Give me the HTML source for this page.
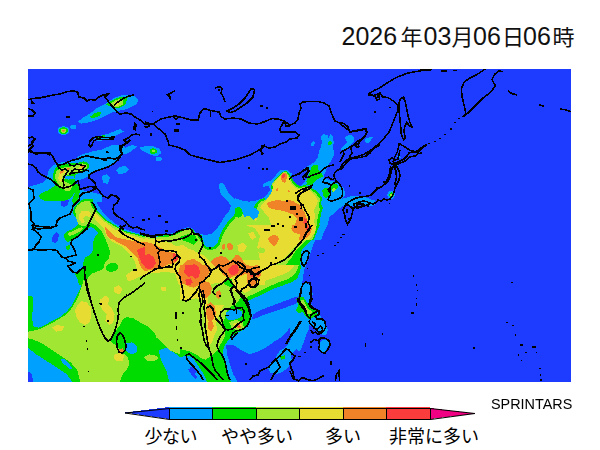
<!DOCTYPE html>
<html><head><meta charset="utf-8"><title>SPRINTARS</title>
<style>
html,body{margin:0;padding:0;background:#fff;}
body{width:600px;height:450px;overflow:hidden;position:relative;font-family:"Liberation Sans",sans-serif;}
svg{position:absolute;left:0;top:0;}
#lab{position:absolute;left:491px;top:395.6px;font-size:14.4px;opacity:0.999;will-change:transform;line-height:17px;color:#000;letter-spacing:0px;white-space:nowrap;}
</style></head><body>
<svg width="600" height="450" viewBox="0 0 600 450">
<rect x="0" y="0" width="600" height="450" fill="#fff"/>
<g shape-rendering="crispEdges">
<clipPath id="mc"><rect x="28" y="69" width="543" height="313"/></clipPath>
<g clip-path="url(#mc)">
<rect x="28" y="69" width="543" height="313" fill="#1e3cff"/>
<polygon fill="#00a0ff" points="77.3,121.8 84,117 90.7,113 97.3,107.7 105.3,103.7 113.3,98.3 122.7,94.9 133.3,94.9 138.7,99.7 136,104.5 126.7,109 118.7,110.9 112,112.5 105.3,115.7 97.3,119.7 89.3,122.3 81.3,123.7"/>
<ellipse fill="#00a0ff" cx="63.5" cy="130.6" rx="5.9" ry="4.3"/>
<ellipse fill="#00a0ff" cx="73.3" cy="126.9" rx="3.2" ry="2.1"/>
<polygon fill="#00a0ff" points="94.7,137 108,133.8 120,129 124,131.7 116,135.7 108,139.1 100,141 95.5,140.2"/>
<polygon fill="#00a0ff" points="94.7,153 102.7,149 112,145 121.3,144.5 125.3,147.7 132,145 137.3,146.3 130.7,151.7 125.3,154.3 118.7,153 114.7,157 105.3,157 98.7,157"/>
<polygon fill="#00a0ff" points="138.7,147.7 145.3,146.3 153.3,146.3 160,149 161.3,153 157.3,156.2 150.7,155.1 144,151.7"/>
<ellipse fill="#00a0ff" cx="158.7" cy="158.9" rx="3.2" ry="2.1"/>
<polygon fill="#00a0ff" points="116,170.3 119.2,166.9 125.3,166.3 128.8,169.5 125.3,173 118.7,173.8"/>
<polygon fill="#00a0ff" points="102.1,175.7 108,174.9 109.3,179.7 106.7,183.7 102.7,182.3"/>
<polygon fill="#00a0ff" points="397.3,155.7 400,154.3 400.8,157.8 398.1,158.9"/>
<polygon fill="#00a0ff" points="386.7,194.7 389.3,191.2 393.3,190.7 395.5,194.7 393.3,198.7 389.3,199.2"/>
<polygon fill="#00a0ff" points="393.3,164 396.5,162.7 398.1,166.7 395.5,168.8"/>
<polygon fill="#00a0ff" points="341.7,199.4 346.3,197.7 351,196.3 356.3,195.7 361.7,196.3 367,197.7 371.7,199.7 375,200.3 375,205 371,206.3 367,205 361.7,204.3 357.7,205 353.7,206.3 349.7,205 345.7,204.3 342.3,205"/>
<polygon fill="#00a0ff" points="320.3,137 323.7,134.3 327.7,135 328.3,138.3 330.3,134.3 333,137 333.7,142.3 333,149 333.7,155.7 331,161 328.3,165 325.7,169 319,169 316.3,162.3 318.3,157 319,151.7 321,146.3 322.3,141.7"/>
<polygon fill="#00a0ff" points="344.3,138.3 346.3,135.7 351,135 354.3,137 353.7,142.3 351,145 348.3,147.7 345.7,149.7 342.3,151 341,149.7 341.7,147 345,145 347.7,142.3 346.3,140.3"/>
<polygon fill="#00a0ff" points="364.3,139 367.7,137.7 373,137 371,140.3 368.3,143.7 365.7,142.3"/>
<polygon fill="#00a0ff" points="311,143.7 313,141 315,143 313.7,146.3 311.3,146.1"/>
<polygon fill="#00a0ff" points="28,243.7 84,243.7 84,273 82.7,281 80,289 76,297 72,305 66.7,311.7 60,317 52,321 45.3,325 38.7,327.7 33.3,326.3 32,318.3 32.8,307.7 33.3,298.3 30.7,295.7 28,296.5"/>
<polygon fill="#00a0ff" points="28,347.7 36,354.3 46.7,361 57.3,367.7 66.7,374.3 72,381.5 28,381.5"/>
<polygon fill="#00a0ff" points="180,265 305.3,265 303.2,275.7 302.1,283.7 306.7,283.1 311.2,286.3 312.8,294.3 310.7,302.3 308.5,310.3 310.1,318.3 309.3,327.7 305.9,335.7 303.2,343.7 300,351.7 296,349 292,354.3 290.7,355.7 292,361 288,367.7 282.7,371.7 276,374.3 270.7,373 268,367.7 272,361 276,357 280,350.3 285.3,347.7 289.3,342.3 293.3,335.7 297.3,329 299.2,322.3 296.8,318.3 292,325 286.7,331.7 281.3,337 273.3,342.3 265.3,347.7 257.3,351.7 249.3,354.3 241.3,350.3 233.3,345 225.9,345 227.5,355.7 230.1,365 233.3,374.3 237.3,381.5 180,381.5"/>
<polygon fill="#00a0ff" points="28,187 33,185.6 39,184 44,182 47,178 48,172 50,168 55,164.4 61,162.4 68,161.6 75,159 79,156 83,154 89,152.4 94,151 99,150 121,150 122,156 119,160 113,164 105,167 97,170 92,172 89,176 85,178 79,180 76,184 75,189 80,190 87,191 95,193 102,195 102,202 28,202"/>
<polygon fill="#00a0ff" points="116,171 119,167 125,166 129,169 126,173 120,174"/>
<polygon fill="#00a0ff" points="103,176 107,174 110,178 108,184 104,183"/>
<polygon fill="#00a0ff" points="28,195 94,195 95,200 100,208 105,215 115,223.4 125,229 135,232.4 145,235 145,285 28,285"/>
<polygon fill="#00a0ff" points="145,234 157,236 164,235 169,234 177,232 183,229 188,227 193,229 196,233 200,234 205,235 211,234 214,232 218,227 222,221 225,216 229,211 231,206 228,201 224,198 221,195 219.4,189 219,184 222,182.6 225,186 228,192 233,198 239,202 265,203 265,285 145,285"/>
<polygon fill="#00a0ff" points="235,198 241,200.4 249,201.6 257,200.4 263,198 267,195 270,190 269,185.6 263,187 262.6,184 267,182 272,180 276,175 280.6,170.4 287.4,169.6 291,173 295,175 301,171 305,168 310,165 315,162 318,157 319,152 321,150 334,150 333.4,156 330.6,162 328.4,165 325,173 323.6,177 329.6,180.4 337.6,182.4 341,185 343.6,188.4 345,192.4 344.4,196.4 341.6,199 346.4,197.6 355,196 355,202.4 353.6,206.4 345.6,204.4 340.4,207.6 335,212.4 329.6,217 327.6,225 324,232 321,240 235,240"/>
<polygon fill="#00a0ff" points="235,225 324,225 321,231 317,237 314,243 312,249 310,255 308,261 305,268 235,268"/>
<polygon fill="#00a0ff" points="290,296.3 296.3,292.1 301.6,290 311.1,290 312.2,296.3 310,302.7 315.3,309 319.5,313.2 321.6,319.5 325.9,323.8 328,330.1 325.9,335.4 321.6,334.3 317.4,330.1 312.2,326.9 307.9,323.8 305.8,329 303.7,335.4 299.5,340.6 294.2,340.6 290,337.5"/>
<polygon fill="#00a0ff" points="318.5,343.8 322.7,339.6 328,339.6 329,344.9 325.9,350.1 323.8,353.3 320.6,350.1"/>
<polygon fill="#1e3cff" points="28,371.7 31.2,373 33.3,381.5 28,381.5"/>
<polygon fill="#1e3cff" points="300,295.7 292,298.3 281.3,302.3 270.7,306.3 260,310.3 253.3,314.3 251.5,319.7 256,318.3 265.3,314.3 276,310.9 286.7,307.1 296,303.7 300.5,301"/>
<polygon fill="#1e3cff" points="60.6,202.4 63,199 67,198 69,201 67.4,205 64,207 61,206"/>
<polygon fill="#1e3cff" points="52,238 54,234 57,232 59,235 58,240 55,243 52,242"/>
<polygon fill="#1e3cff" points="60.6,203 63,199.4 67,198.6 68.6,202 66,205.4 62,206"/>
<polygon fill="#1e3cff" points="289.4,177 293,173.6 299,171 306,170 309,173 307,178 304,183 301,185.6 296,186.4 292,184.4"/>
<polygon fill="#00dc00" points="89.9,117 94.7,113 101.3,111.7 100,115.7 93.3,118.3"/>
<polygon fill="#00dc00" points="105.9,104.5 112,100.2 120,97 128,97 125.3,104.5 118.7,108.2 112,107.1"/>
<ellipse fill="#00dc00" cx="63.5" cy="130.6" rx="4.3" ry="3.2"/>
<polygon fill="#00dc00" points="97.3,136.5 105.3,134.9 105.3,137 98.7,138.1"/>
<ellipse fill="#00dc00" cx="153.3" cy="151.1" rx="3.7" ry="2.7"/>
<polygon fill="#00dc00" points="388.8,194.7 390.7,192.3 393.3,192.8 393.9,196 391.2,197.9"/>
<polygon fill="#00dc00" points="309.7,173 311,167.7 313.7,165 318.3,165 317.7,169 319.7,171.7 321.7,175 319.7,177.7 316.3,179 313,181.7 309,183.7 306.3,182.3 307,178.3 308.3,175.7"/>
<polygon fill="#00dc00" points="322.3,190.3 324.3,188.3 327.7,187.7 330.3,189.7 329.9,193.7 328.3,197 325.7,198.3 323,195"/>
<polygon fill="#00dc00" points="331.7,185 335,183.7 338.3,185 337.7,188.3 335,191 332.3,191.7 330.7,189"/>
<polygon fill="#00dc00" points="328.3,141.7 331,140.7 332.1,143 330.7,145.3 328.3,144.7"/>
<polygon fill="#00dc00" points="307.7,178.3 310.3,170.3 313,165.7 315.7,165 316.3,169 318.3,171.7 321.7,173 323,176.3 319,178.3 315,181 311,185 306.3,185"/>
<polygon fill="#00dc00" points="84,285 180,285 180,366.3 173.3,369 170.7,374.3 172,381.5 72,381.5 66.7,374.3 57.3,367.7 46.7,361 36,354.3 28,347.7 28,296.5 30.7,295.7 33.3,298.3 32.8,307.7 32,318.3 33.3,326.3 38.7,327.7 45.3,325 52,321 60,317 66.7,311.7 72,305 76,297 80,289 82.7,281"/>
<polygon fill="#00dc00" points="280,357 284.5,355.1 285.3,358.3 281.3,359.7"/>
<polygon fill="#00dc00" points="180,265 301.3,265 300,271.7 297.3,278.3 292,282.3 284,285 276,287.7 268,291.7 260,295.7 253.3,298.3 248,301 249.9,307.7 251.5,315.7 249.9,322.3 245.3,327.7 240,331.7 234.7,334.3 230.7,338.3 226.7,342.3 224,346.3 222.7,353 224,361 226.7,370.3 229.3,377 230.7,381.5 180,381.5"/>
<polygon fill="#00dc00" points="39.7,194 42.3,192.7 47.7,190.7 51.7,188 55,185.3 53.7,182 53,176.7 53.7,171.3 55.7,168 59.7,165.3 65,164 70.3,163.3 78.3,162.7 83.7,161.3 87.7,162.7 89.7,166 87.7,169.3 83.7,171.3 78.3,173.3 75.7,174.7 74.3,178.7 76.3,182 75.7,186.7 74.3,190 73,196 67.7,200 61,201.3 55.7,201.3 50.3,201.3 45,200.7 41,199.3 39,196.7"/>
<polygon fill="#00dc00" points="93,199 93.4,204 95,209 100,214 105,219 115,225 125,231 135,233.4 145,236.4 145,285 79,285 77.4,279 75,274 78,270.6 83,268 83.4,262 85,257.4 90,255 93.4,250 93,243 95,236 98,233 95,229 91,227 86,229.4 82,233 78,237 73,240 68,242 65,240 64,235 67,231.4 72,229.4 76,227 79,223.4 77.4,219 74,216 73,211 75,206 79,202 83,199.4 89,198.6"/>
<polygon fill="#00dc00" points="66.6,246 69.4,244.6 70.2,248 68,250.6 66,249"/>
<polygon fill="#00dc00" points="72,185.3 77.3,184 80,189.3 79.2,196 76.5,202.7 73.3,205.3 72,200 74.7,193.3 73.3,189.3"/>
<polygon fill="#00dc00" points="145,235 157,236.6 164,235.6 169,234.6 177,232.6 183,229.6 188,227.6 193,229.6 196,233.6 200,234.6 202,235 203,241 205,246 210,248 215,246 218,242 220,235 223,229 227,223 231,218 236,214 241,212 247,215 253,216 257,212 254,207 257,202 261,199 265,198 265,285 145,285"/>
<polygon fill="#00dc00" points="235,208 238,207 243,210 249,212 254,210 257,205 261,202.4 265,200 269,197 272,191 271,186 274,181 278,176 282,172 286.6,171 289.4,174 292,178 295,183 300,186 305,185 310,187 315,190 319,193 322,198 321,204 323,208 321,214 320,220 319,227 316,234 314,240 235,240"/>
<polygon fill="#00dc00" points="235,225 320,225 317,230 314,235 311,240 308,244 304,247 301,252 302,258 300,264 297,268 235,268"/>
<polygon fill="#00dc00" points="296.3,299.5 299.5,296.3 303.7,297.4 306.9,302.7 311.1,307.9 316.4,310 317.4,314.3 313.2,317.4 309,319.5 305.8,316.4 302.7,312.2 298.4,313.2 295.9,310 298.4,305.8"/>
<polygon fill="#00a0ff" points="173.3,369 180,366.3 180,381.5 172,381.5 170.7,374.3"/>
<polygon fill="#00a0ff" points="60,359.7 64,358.9 69.3,363.7 72.8,369 69.3,368.5 64,364.2"/>
<polygon fill="#00a0ff" points="125.3,343.7 132,342.3 137.3,346.3 137.3,351.7 132,354.3 126.7,351.7"/>
<polygon fill="#00a0ff" points="224,314.3 229.3,310.3 237.3,309 242.7,311.7 241.3,317 234.7,319.7 228,319.7"/>
<polygon fill="#00a0ff" points="158.7,350.3 166.7,347.7 174.7,353 180,357 188,355.7 193.3,358.3 198.7,366.3 204,374.3 206.7,381.5 169.3,381.5 166.7,371.7 161.3,361"/>
<polygon fill="#00a0ff" points="180,364 185,361 190,362 195,366 199,371 202,376 203,380 180,380"/>
<polygon fill="#1e3cff" points="189.3,367.7 193.3,366.3 197.3,371.7 194.7,374.3 190.7,371.7"/>
<polygon fill="#1e3cff" points="188,369 191,368 194,372 197,377 195,379 191,374"/>
<polygon fill="#a0e632" points="110.7,103.7 116,99.7 122.7,99.1 122.7,104.5 118.1,107.1 112.8,106.3"/>
<ellipse fill="#a0e632" cx="63.5" cy="130.6" rx="2.9" ry="2.1"/>
<ellipse fill="#a0e632" cx="153.3" cy="151.1" rx="1.9" ry="1.3"/>
<ellipse fill="#a0e632" cx="391.2" cy="194.9" rx="1.1" ry="1.1"/>
<polygon fill="#a0e632" points="332.1,189 334.3,187.9 335.7,189.7 334.3,191.7 332.3,191.4"/>
<polygon fill="#a0e632" points="85.3,285 84,278.3 81.9,286.3 79.2,294.3 76,301 72,307.7 66.7,314.3 60,318.3 53.3,322.3 46.7,325.8 40,329 34.7,330.3 28,331.7 28,338.3 33.3,339.7 40,342.3 46.7,346.3 54.7,351.7 62.7,357 70.7,362.3 77.3,370.3 80,381.5 120,381.5 122.7,374.3 126.7,370.3 129.3,363.7 128,357 122.7,353 117.3,346.3 113.3,343.7 110.7,341 112,335.7 116,330.3 120,325 122.7,319.7 126.7,317 133.3,318.3 140,322.3 148,326.3 154.7,333 156.5,337.5 164,345 169.3,350.3 180,354.3 180,285"/>
<polygon fill="#a0e632" points="144,357 149.3,354.3 156,355.7 158.7,358.9 153.3,361 146.7,360.5"/>
<polygon fill="#a0e632" points="180,265 298.7,265 297.3,270.3 293.3,275.7 286.7,279.7 278.7,282.3 270.7,285.8 262.7,289.5 256,293 249.9,295.7 245.3,298.3 242.7,295.7 240,298.3 237.3,302.3 233.3,305 229.3,307.7 226.7,311.7 225.3,317 222.7,322.3 224,329 225.3,335.7 222.7,341 220,345 217.3,350.3 213.3,354.3 209.3,357 205.3,359.7 201.3,358.3 196,354.3 190.7,351.7 185.3,350.3 180,349"/>
<polygon fill="#a0e632" points="229.3,322.3 236,319.7 242.7,322.3 244,327.7 238.7,330.3 232,329"/>
<polygon fill="#a0e632" points="55,175.3 56.3,171.3 59.7,168.7 65,167.3 70.3,166.7 75.7,165.3 82.3,163.3 87,164.7 87.7,167.3 83.7,170 78.3,171.3 73,172.7 69,174.7 65,176.7 64.3,180.7 67.7,183.3 71,184 71.7,187.3 70.3,190.7 66.3,191.3 63,188.7 59.7,186 57,182 55.4,178.7"/>
<polygon fill="#a0e632" points="85,201 90,201.4 92,207 95,210.6 100,215.6 105,220.6 115,226.4 125,232.2 135,234.6 145,237.4 145,285 86,285 88,277 91,274 96,272 101,270 104,267 105,262 109,259 110,252 108,245 105,238 102,232 99,229 95,225 91,223 87,225 83,226.6 79,224.6 76.6,220 76,215 75,210 77.4,205.4 81,202.6"/>
<polygon fill="#a0e632" points="68,233 73,231 78,228.6 82,227 83,229 79,232 74,234.6 69,236"/>
<polygon fill="#a0e632" points="145,236 155,237.4 163,237 169,236.6 175,235 181,232 186,229.4 190,229.4 193,232 195,236 199,238 202,243 204,248 210,250.6 216,248.6 220,244 222,237 225,231 229,225 233,220 237,216 242,215 247,217.4 253,218.6 258,215 256.6,209 258.6,204 262,201 265,200 265,285 145,285"/>
<polygon fill="#a0e632" points="235,214 241,213 247,216 253,215 257,210 260,205 264,201.6 268,198 271,193 273,188 272,184 275,180 279,176 283,172.4 286.2,172 288.6,175 291,180 294,185 299,188 305,187 310,189 314,192 317,195 320,199 319,205 320,210 318,216 317,223 316,230 314,236 312,240 235,240"/>
<polygon fill="#a0e632" points="235,225 317,225 314,230 311,235 307,239 303,243 299,247 295,252 292,257 288,262 285,265 283,268 235,268"/>
<polygon fill="#a0e632" points="300.5,300.5 303.7,299.5 305.8,304.8 307.9,309 312.2,311.1 311.1,314.3 307.9,314.3 304.8,311.1 301.6,307.9"/>
<polygon fill="#00dc00" points="106,267 108,264 113,262.6 117.4,264 118,268 115,271 110,272 106.6,270.6"/>
<polygon fill="#e6dc32" points="113.3,103.7 116.5,101 120,102.3 118.1,105.5 114.7,105.5"/>
<polygon fill="#e6dc32" points="77.3,305 81.3,301 86.7,302.3 90.7,307.7 91.5,315.7 89.3,322.3 85.3,325 80,322.3 76.5,317 74.7,310.3"/>
<polygon fill="#e6dc32" points="52,327.7 57.3,325 64,326.3 62.7,330.3 56,331.7"/>
<polygon fill="#e6dc32" points="100,299.7 105.3,295.7 109.3,298.3 108,305 112,309 114.7,314.3 113.3,322.3 109.3,325 105.3,321 106.7,314.3 102.7,310.3 100,305"/>
<polygon fill="#e6dc32" points="113.3,287.7 118.7,285 122.7,289 120,294.3 114.7,293"/>
<polygon fill="#e6dc32" points="160,287.7 165.3,286.3 166.7,290.3 162.7,291.7"/>
<polygon fill="#e6dc32" points="114.7,354.3 120,353 124,355.7 122.7,361 117.3,361.5 113.9,358.3"/>
<polygon fill="#e6dc32" points="233.3,323.7 238.7,322.3 241.9,325.8 238.1,329 234.1,327.7"/>
<polygon fill="#e6dc32" points="180,265 294.7,265 290.7,270.3 284,274.3 276,277 268,279.7 260,283.7 253.3,287.7 248,291.7 244,293 241.3,290.3 237.3,291.7 233.3,295.7 229.3,299.7 225.3,303.7 222.7,307.7 220,313 217.3,318.3 216,323.7 217.3,329 214.7,334.3 212,342.3 209.3,345 206.7,341 205.3,335.7 206.7,326.3 205.3,318.3 206.7,311.7 204,305 201.3,299.7 196,298.3 190.7,299.7 185.3,301 180,299.7"/>
<polygon fill="#e6dc32" points="59,173.3 61.7,170.7 65,170 66.3,172 63.7,174 61.7,176.7 62.3,180.7 60.3,182 58.3,178.7"/>
<polygon fill="#e6dc32" points="77.7,168 81,166 85,165.3 85.7,167.3 82.3,169.3 78.3,170"/>
<polygon fill="#e6dc32" points="79.4,214 81.4,211.4 85,210.6 89,211 91.4,214 89.4,217 86,216 83.4,218.6 85,222 82,223.4 79.4,220"/>
<polygon fill="#e6dc32" points="93,213 94,212 95,212.6 100,217.4 105,222 115,229.4 125,233.4 135,236.4 145,239 145,277 141,275 137,271 136,265 134,260 130,255 126,250 121,246 115,243 110,240 106,235 104,228 100,225 96,221"/>
<polygon fill="#e6dc32" points="126,275 131,271.6 137,270 145,270.6 145,274 139,277 133,280 128,281"/>
<polygon fill="#e6dc32" points="145,238 153,239.4 162,239 165,242 171,243 175,240 180,237 185,234 189,235 192,238 190,242 187,245 188,249 193,250 198,253 203,255 207,259 211,262 216,260 221,257 220,251 222,245 225,242 229,240 233,242 236,246 239,249 241,255 245,259 251,261 257,259 263,257 265,256 265,285 179,285 177,279 175,273 165,272 155,273 145,274"/>
<polygon fill="#e6dc32" points="239,249 241,242 245,237 251,234 257,235 261,238 265,239 265,261 257,262 249,262 244,259 241,255"/>
<ellipse fill="#e6dc32" cx="255.4" cy="218" rx="1.6" ry="2.8"/>
<ellipse fill="#e6dc32" cx="238.4" cy="227" rx="1.6" ry="2"/>
<polygon fill="#e6dc32" points="260,208 263,203 267,199 270.6,194.4 272.6,189 273.4,184.4 276,180.4 279.4,177 283,173.6 286,173 288,176 290,181 293,186 298,189 304,188.4 309,190 313,193 316,197 318,201 316,206 314,210 315,216 314,222 316,227 315,232 312,236 309,240 265,240 263,234 267,230 271,224 269,218 265,214 263,210"/>
<polygon fill="#e6dc32" points="235,225 314,225 311,230 307,235 303,239 299,242 295,246 291,251 287,255 283,259 278,262 274,265 271,268 235,268"/>
<polygon fill="#e6dc32" points="302.7,307.9 305.8,306.9 306.9,311.1 304.3,312.2"/>
<polygon fill="#00dc00" points="224,281 228,277 232,279.7 233.3,286.3 232,293 229.3,298.3 225.9,294.3 224.8,287.7"/>
<polygon fill="#00a0ff" points="64.3,176.7 69,175.6 74.3,176 73.7,178.7 69,179.6 65,179.3"/>
<polygon fill="#a0e632" points="171,241 176,236 183,233 191,232 197,235 200,241 199,247 194,250 188,248 183,245 177,246 173,245"/>
<polygon fill="#a0e632" points="209,285 216,283 224,284 230,287 235,291 238,296 236,305 208,305"/>
<polygon fill="#a0e632" points="220,260 221.3,246.7 225.3,236 233.3,228 244,225.3 254.7,228 260,236 257.3,246.7 260,260"/>
<polygon fill="#a0e632" points="235,225 247,225 249,231 246,237 243,242 238,244 235,243"/>
<polygon fill="#a0e632" points="257.4,250 260,247.4 264,248 265.4,251 263,253.4 259,253"/>
<polygon fill="#a0e632" points="245,252 249,249.4 255,250 256.6,254 252,256.6 247,256"/>
<polygon fill="#00dc00" points="180,237 188,234 195,235 198,240 194,245 188,242 183,241"/>
<polygon fill="#e6dc32" points="237.3,245.3 242.7,242.7 246.7,246.7 244,252 238.7,251.5"/>
<polygon fill="#e6dc32" points="248,233.3 253.3,232 256,237.3 252,240"/>
<polygon fill="#00dc00" points="234.1,216 235.5,209.9 239.2,207.2 242.4,209.9 241.9,216 238.7,217.9"/>
<polygon fill="#00a0ff" points="241.9,209.9 248,207.2 256,208 259.5,212 257.3,217.3 253.3,220 249.9,216 244,216.8"/>
<ellipse fill="#f08228" cx="63.5" cy="130.6" rx="1.3" ry="1.1"/>
<polygon fill="#f08228" points="118.1,349.8 122.7,348.2 124,351.7 120,353.5"/>
<polygon fill="#f08228" points="236,325 240,324.2 240.8,327.7 237.3,328.5"/>
<polygon fill="#f08228" points="180,265 209.3,265 210.7,270.3 206.7,277 202.7,281 198.7,285 193.3,287.7 188,286.3 184,283.7 180,285"/>
<polygon fill="#f08228" points="198.7,285 204,281 209.3,282.3 212,287.7 210.7,294.3 206.7,298.3 202.7,295.7 200,290.3"/>
<polygon fill="#f08228" points="220,265 237.3,265 238.7,270.3 234.7,275.7 229.3,278.3 224,275.7 220,270.3"/>
<polygon fill="#f08228" points="246.7,274.3 252,271.7 257.3,274.3 258.7,279.7 254.7,285 249.9,286.3 246.7,282.3"/>
<polygon fill="#f08228" points="206.7,305 210.7,302.3 214.7,306.3 216,314.3 213.3,319.7 209.3,322.3 206.7,317 206.1,310.3"/>
<polygon fill="#f08228" points="208,322.3 212,321 214.1,326.3 211.5,331.1 208,329"/>
<polygon fill="#f08228" points="216,291.7 220,290.3 221.3,295.7 218.7,299.7 216,297"/>
<polygon fill="#f08228" points="60.3,171.3 63,170 64.3,171.3 62.3,173.3 60.3,173.7"/>
<polygon fill="#f08228" points="66.3,168.7 69,167.3 70.3,168.7 67.7,170.3"/>
<polygon fill="#f08228" points="81,166.7 84.3,165.3 86.3,166.7 83.7,168.4"/>
<polygon fill="#f08228" points="105,226 110,232 115,237 125,239.4 135,241.4 145,242.4 145,272 143,270 140,265 138,259 134,254 129,250 125,246 119,243 114,240 109,238 106,233"/>
<polygon fill="#f08228" points="145,242 151,243 156,245 161,248 165,252 171,252 175,254 177,259 175,263 169,264 163,267 157,268 151,270 145,271"/>
<polygon fill="#f08228" points="179,269 183,264 188,260 194,259 199,262 203,266 205,272 207,277 204,282 199,285 185,285 181,281 178,275"/>
<polygon fill="#f08228" points="211,262 214,258 220,256 225,257 230,261 235,257 239,258 243,262 247,265 245,270 241,274 236,276 231,275 225,272 220,269 215,267"/>
<polygon fill="#f08228" points="227,244 230,242.6 233,245 232.6,249.4 229,250.6 227,247.4"/>
<polygon fill="#f08228" points="222,245 224.6,244 225,249 222.6,250"/>
<polygon fill="#f08228" points="249,272 254,270 260,271 261,275 257,279 252,280 249,277"/>
<polygon fill="#f08228" points="253,266 257,265 260,267 257,269.4 254,269"/>
<polygon fill="#f08228" points="267,203 272,201 278,200 283,201 288,200 293,201 298,204 302,208 305,213 307,219 308,225 306,230 303,233 298,234 293,232 291,228 295,224 297,219 294,215 289,213 284,211 278,210 272,209 268,207"/>
<polygon fill="#f08228" points="280.6,178 282,173.6 285,172.4 287.4,175 286.6,179 285,183 282.6,182"/>
<polygon fill="#f08228" points="276,189 278,188 278.6,191 276.6,191.6"/>
<polygon fill="#f08228" points="288,190 290.6,191 289,193"/>
<polygon fill="#f08228" points="269,237 273,235 278,236 279,240 268,240"/>
<polygon fill="#f08228" points="301,230 305,226 310,225 312,229 310,234 306,238 302,240 299,240 300,235"/>
<polygon fill="#f08228" points="292,225 311,225 309,230 306,234 303,236 299,234 295,232 292,229"/>
<polygon fill="#f08228" points="268,238 272,236 276,237 278,241 276,245 273,246 270,243"/>
<polygon fill="#f08228" points="235,255 238,255 242,259 245,264 250,266 255,266 260,268 261,272 257,274 253,273 249,275 245,274 241,276 237,275 235,276"/>
<polygon fill="#f08228" points="303.5,309 305.6,308.6 305.6,310.7 303.9,310.7"/>
<polygon fill="#fa3c3c" points="237.3,325.8 239.7,325.8 239.2,327.9"/>
<polygon fill="#fa3c3c" points="185.3,265 196,265 197.3,270.3 193.3,275.7 188,277 184,273"/>
<polygon fill="#fa3c3c" points="185.3,279.7 190.7,278.3 192.8,282.3 189.3,285 185.9,283.7"/>
<polygon fill="#fa3c3c" points="232,265 237.3,265 236.5,269 233.3,269.8"/>
<polygon fill="#fa3c3c" points="249.9,273 253.3,272.5 254.1,276.2 250.7,277"/>
<polygon fill="#fa3c3c" points="83.7,165.7 86.1,166 86.6,167.3 84.3,167.6"/>
<polygon fill="#fa3c3c" points="137,250 141,248 145,247 145,267 142,264 140,259 138,254"/>
<polygon fill="#fa3c3c" points="145,255 149,254 154,257 156,263 153,268 148,269 145,268"/>
<polygon fill="#fa3c3c" points="173,253 177,254 178,259 175,262 173,258"/>
<polygon fill="#fa3c3c" points="190,266 194,264 198,266 200,271 199,277 195,279 192,276 190,271"/>
<polygon fill="#fa3c3c" points="186,280 190,279 191,285 186,285"/>
<polygon fill="#fa3c3c" points="228,269 231,266 236,266 239,270 237,274 232,275 229,273"/>
<polygon fill="#fa3c3c" points="256,272 260,272 260.6,275 257,276"/>
<polygon fill="#fa3c3c" points="282,175 284,173 285.4,175 284,178 282.4,177.6"/>
<polygon fill="#fa3c3c" points="304,218 306.6,219 307.4,223 305.4,225 303.4,222.4"/>
<polygon fill="#fa3c3c" points="305,226 308,225 309,229 306,230"/>
<polygon fill="#fa3c3c" points="235,264 237.4,265 238.6,269 236.6,273 235,273"/>
<rect fill="#000" x="303.55" y="351.55" width="2.5" height="1.3"/>
<rect fill="#000" x="298.45" y="355.85" width="2.1" height="1.3"/>
<rect fill="#000" x="330.25" y="360.7" width="1.7" height="4.2"/>
<rect fill="#000" x="364.5" y="343.8" width="0.8" height="4.2"/>
<rect fill="#000" x="310.25" y="346.35" width="1.7" height="1.3"/>
<polygon fill="#000000" points="31,99.4 35,104 31,104"/>
<polygon fill="#000000" points="134,122 137,124 136,131 133,130"/>
<rect fill="#000" x="65.8" y="116.4" width="4.4" height="2"/>
<rect fill="#000" x="106" y="151.6" width="2.8" height="1.6"/>
<rect fill="#000" x="182.4" y="312.4" width="1.2" height="1.2"/>
<rect fill="#000" x="180.4" y="347" width="1.2" height="2"/>
<rect fill="#000" x="245.2" y="363" width="1.6" height="2"/>
<rect fill="#000" x="200" y="319" width="2" height="6"/>
<rect fill="#000" x="297.2" y="298" width="1.6" height="4"/>
<rect fill="#000" x="225" y="315" width="4" height="1.2"/>
<rect fill="#000" x="235.8" y="310" width="1.2" height="4"/>
<rect fill="#000" x="99.2" y="303.05" width="1.6" height="1.3"/>
<rect fill="#000" x="107.45" y="320.2" width="1.1" height="1.6"/>
<rect fill="#000" x="83.35" y="325.65" width="1.3" height="1.3"/>
<rect fill="#000" x="86.3" y="340.2" width="0.8" height="1.6"/>
<rect fill="#000" x="86.8" y="348.2" width="0.8" height="1.6"/>
<rect fill="#000" x="87.6" y="367.05" width="0.8" height="1.3"/>
<rect fill="#000" x="88.4" y="371.05" width="0.8" height="1.3"/>
<rect fill="#000" x="175.35" y="312.35" width="1.3" height="6.7"/>
<rect fill="#000" x="176.25" y="325.7" width="1.1" height="4"/>
<rect fill="#000" x="176.75" y="338.9" width="1.1" height="1.6"/>
<rect fill="#000" x="346.4" y="209.4" width="2" height="3.2"/>
<rect fill="#000" x="348.4" y="218" width="1.2" height="2"/>
<rect fill="#000" x="383.2" y="180.8" width="1.6" height="2.4"/>
<rect fill="#000" x="375.8" y="186.6" width="2.4" height="2"/>
<rect fill="#000" x="359.4" y="192.2" width="1.2" height="1.6"/>
<rect fill="#000" x="348.5" y="185.5" width="1" height="1"/>
<rect fill="#000" x="389.6" y="208.6" width="0.8" height="0.8"/>
<rect fill="#000" x="341.5" y="233.8" width="3" height="1.2"/>
<rect fill="#000" x="388.5" y="203.1" width="1" height="1"/>
<rect fill="#000" x="392.6" y="164.4" width="2.8" height="2.4"/>
<rect fill="#000" x="356" y="203.2" width="8" height="1.6"/>
<rect fill="#000" x="511.05" y="281.75" width="1.9" height="1.1"/>
<rect fill="#000" x="505.9" y="321.65" width="1.6" height="1.3"/>
<rect fill="#000" x="511.85" y="324.95" width="1.9" height="1.1"/>
<rect fill="#000" x="514.95" y="333.95" width="1.1" height="1.9"/>
<rect fill="#000" x="519.95" y="344.05" width="2.7" height="1.9"/>
<rect fill="#000" x="531.95" y="346.25" width="4.3" height="1.3"/>
<rect fill="#000" x="525.3" y="351.85" width="1.6" height="1.3"/>
<rect fill="#000" x="518.15" y="354.1" width="1.1" height="1.6"/>
<rect fill="#000" x="535.95" y="351.65" width="1.1" height="1.1"/>
<rect fill="#000" x="520.75" y="359.65" width="1.1" height="1.1"/>
<rect fill="#000" x="539.05" y="367.65" width="1.9" height="1.1"/>
<rect fill="#000" x="540.15" y="373.55" width="1.3" height="2.7"/>
<rect fill="#000" x="539.85" y="378.9" width="1.9" height="1.6"/>
<rect fill="#000" x="472.95" y="346.95" width="1.9" height="1.9"/>
<rect fill="#000" x="412.75" y="274.9" width="1.1" height="1.6"/>
<rect fill="#000" x="416.25" y="283.95" width="1.1" height="2.1"/>
<rect fill="#000" x="416.75" y="289.5" width="1.1" height="1.6"/>
<rect fill="#000" x="415.75" y="297.5" width="1.1" height="1.6"/>
<rect fill="#000" x="415.85" y="303.45" width="1.3" height="2.1"/>
<rect fill="#000" x="411.15" y="311.95" width="2.7" height="2.1"/>
<rect fill="#000" x="381.55" y="332.85" width="1.1" height="1.9"/>
<rect fill="#000" x="364.65" y="343.4" width="1.3" height="3.2"/>
<rect fill="#000" x="176.2" y="123.4" width="3.6" height="2"/>
<rect fill="#000" x="173.5" y="128.5" width="5" height="3"/>
<rect fill="#000" x="150.4" y="133.2" width="2" height="2.4"/>
<rect fill="#000" x="151.8" y="110.6" width="1.6" height="1.6"/>
<rect fill="#000" x="261.2" y="105.4" width="1.6" height="1.2"/>
<rect fill="#000" x="217.6" y="88.6" width="2.8" height="2.8"/>
<rect fill="#000" x="209.6" y="111" width="1.6" height="6"/>
<rect fill="#000" x="374.2" y="111.2" width="1.6" height="1.6"/>
<rect fill="#000" x="377.1" y="93.85" width="3.2" height="3.7"/>
<rect fill="#000" x="457.65" y="117.75" width="2.1" height="1.1"/>
<rect fill="#000" x="454.15" y="121.75" width="2.1" height="1.1"/>
<rect fill="#000" x="449.65" y="128.45" width="2.1" height="1.1"/>
<rect fill="#000" x="444.25" y="134.35" width="2.1" height="1.1"/>
<rect fill="#000" x="438.95" y="137.75" width="2.1" height="1.1"/>
<rect fill="#000" x="433.65" y="141.25" width="2.1" height="1.1"/>
<rect fill="#000" x="428.25" y="143.15" width="2.1" height="1.1"/>
<rect fill="#000" x="393.35" y="164.95" width="2.7" height="2.7"/>
<rect fill="#000" x="374.05" y="111.05" width="1.3" height="1.3"/>
<rect fill="#000" x="389.45" y="107.05" width="1.3" height="1.3"/>
<rect fill="#000" x="440.65" y="70.1" width="6.7" height="1.6"/>
<rect fill="#000" x="452.7" y="69.65" width="4" height="1.3"/>
<rect fill="#000" x="494.15" y="84.45" width="2.1" height="2.7"/>
<rect fill="#000" x="349" y="185.35" width="0.8" height="1.1"/>
<rect fill="#000" x="359.05" y="192.45" width="1.3" height="1.1"/>
<rect fill="#000" x="328.2" y="188.65" width="2.4" height="2.9"/>
<rect fill="#000" x="290" y="206" width="6" height="4"/>
<rect fill="#000" x="299" y="217" width="4" height="4"/>
<rect fill="#000" x="293.8" y="226" width="2.4" height="2"/>
<rect fill="#000" x="281.6" y="224.6" width="2.8" height="2"/>
<rect fill="#000" x="276.6" y="223.4" width="2.8" height="2"/>
<rect fill="#000" x="271" y="225" width="4" height="2"/>
<rect fill="#000" x="264.5" y="228.6" width="5" height="2.8"/>
<rect fill="#000" x="286.4" y="200" width="2" height="2"/>
<rect fill="#000" x="304.6" y="222.5" width="2.8" height="5"/>
<rect fill="#000" x="248.4" y="167.4" width="1.2" height="1.2"/>
<rect fill="#000" x="262.4" y="168.4" width="1.2" height="1.2"/>
<rect fill="#000" x="266.4" y="168.4" width="1.2" height="1.2"/>
<rect fill="#000" x="296" y="213.2" width="2" height="1.6"/>
<rect fill="#000" x="289" y="216.2" width="2" height="1.6"/>
<rect fill="#000" x="343.2" y="233.5" width="1.6" height="1"/>
<rect fill="#000" x="340.2" y="236.5" width="1.6" height="1"/>
<rect fill="#000" x="337.2" y="241.5" width="1.6" height="1"/>
<rect fill="#000" x="334.2" y="244.5" width="1.6" height="1"/>
<rect fill="#000" x="322" y="252.5" width="2" height="1"/>
<rect fill="#000" x="316.8" y="254.5" width="2.4" height="1"/>
<rect fill="#000" x="306.5" y="267.5" width="1" height="1"/>
<rect fill="#000" x="308.5" y="274.5" width="1" height="1"/>
<rect fill="#000" x="306.5" y="282.5" width="1" height="1"/>
<rect fill="#000" x="270" y="262" width="2" height="2"/>
<rect fill="#000" x="275.2" y="257.2" width="1.6" height="1.6"/>
<rect fill="#000" x="298.4" y="243.2" width="1.2" height="1.6"/>
<rect fill="#000" x="263.5" y="229.2" width="3" height="1.6"/>
<rect fill="#000" x="295" y="226.2" width="2" height="1.6"/>
<rect fill="#000" x="282.2" y="225.4" width="1.6" height="1.2"/>
<rect fill="#000" x="132.2" y="216.5" width="1.6" height="1"/>
<rect fill="#000" x="141.8" y="219.2" width="2.4" height="1.6"/>
<rect fill="#000" x="105.6" y="151.4" width="2.8" height="1.2"/>
<rect fill="#000" x="102.6" y="159.4" width="4" height="1.2"/>
<polygon fill="#000000" points="62,257 67.4,257.4 65,260"/>
<rect fill="#000" x="83.4" y="266.4" width="2.4" height="2"/>
<rect fill="#000" x="97.2" y="254.2" width="1.6" height="1.6"/>
<rect fill="#000" x="130" y="256" width="2" height="1.2"/>
<rect fill="#000" x="133.4" y="269.2" width="3.2" height="1.6"/>
<rect fill="#000" x="99.6" y="303.4" width="2" height="1.2"/>
<rect fill="#000" x="126" y="294.4" width="1.2" height="1.2"/>
<rect fill="#000" x="154" y="267.6" width="6" height="1.6"/>
<rect fill="#000" x="166" y="266.2" width="4" height="1.6"/>
<rect fill="#000" x="209.2" y="247.4" width="1.6" height="1.2"/>
<rect fill="#000" x="220.4" y="252" width="1.2" height="2"/>
<rect fill="#000" x="219.4" y="295.4" width="1.2" height="1.2"/>
<rect fill="#000" x="195" y="239" width="2" height="2"/>
<rect fill="#000" x="157.5" y="215" width="3" height="2"/>
<rect fill="#000" x="164.5" y="221.2" width="3" height="1.6"/>
<rect fill="#000" x="143" y="219.4" width="2" height="1.2"/>
<rect fill="#000" x="148.4" y="218.4" width="1.2" height="1.2"/>
<rect fill="#000" x="164.5" y="230.4" width="3" height="1.2"/>
<path fill="none" stroke="#000" stroke-width="1.6" d="M301.6,290 300.5,295.3 298.4,300.5 301,305.8 304.3,310 306.9,315.3 310,318.5 311.1,314.9 315.3,312.2 319.5,311.1 319.1,314.3 315.3,316.4 317.4,319.5 321.6,318.5 324.8,321.6 325.9,326.9 323.8,331.1 319.5,332.2 316.4,330.1 313.2,326.9 310,323.8 309,320.6 M311.1,290 311.7,295.3 310,300.5 309,304.8 311.1,307.9 315.3,309.4 319.5,311.1 M312.2,321.6 315.3,323.8 314.3,328 317.4,329 320.6,325.9 322.7,329 321.6,333.2 318.5,334.3 315.3,332.2 312.8,333.2 311.1,330.1 M310,342.7 314.3,339.6 318.5,340.6 319.5,344.9 318.5,349.1 321.6,352.2 324.8,353.3 328,349.1 330.1,344.9 329,340.6 325.9,338.5 321.6,337.5 318.5,340.6 M300.5,320.6 297.4,325.9 294.2,331.1 291.1,335.4 290,336.8 M301,321 297.8,326.3 294.6,331.6 291.5,335.8 M290,371.2 293.2,378.6 298.4,380.7 302.7,377.6 307.9,379.7 313.2,380.7 318.5,378.6 323.8,375.4 M335.4,380.7 336.4,374.4 338.9,371.2 339.6,380.7 M28.4,100 32,98.6 39,98 46,96.6 53,95 60,94 67,91.6 74,91 77.6,92 79,97 84,98 87,101 90,99.4 95,100 99,97 103,95 108,94 105,97 108,101 111,105 114,108 117,112 120,114 126,113 131,114 135,117 140,120 M28.4,108.6 32,110 35,113 33,116 28.4,116 M114,105 118,102 124,98 129,96 134,95 M89,145 90,141 93,138 98,136.6 104,137.4 110,137.4 114,137 113.6,139 108,139.4 102,139.4 97,139 93.6,141 92,145 90.4,146.6Z M140,135 136,134 132,135 128,138 124,140 127,143 124,145 120,146 120,150 122,155 M28.4,138 32,137 35,139 32,142 33,146 30,149 28.4,153 M28.4,149 34,153 40,152.6 46,153 50,155 M200,290 199,295 200,300 201,305 200,310 201,316 200,322 202,328 203,334 204,340 206,345 209,349 211,354 212,359 213,365 215,370 219,375 223,380 M203,290 204,296 205,302 204,308 205,314 205.6,320 205,326 206,332 207,338 208,344 209,349 M206,308 210,306 213,309 214,314 216,319 220,323 223,327 225,330 223,333 220,337 218,341 217,346 219,351 222,355 224.4,360 226,366 227,372 229,378 230,380 M221,312 225,309 230,309 234,310 238,308 242,307.6 244,311 243,316 244,320 241,322 238,324 235,327 232,329 228,330 225,329 223,325 222,320 220,316Z M236,290 240,294 244,299 248,304 250,310 251,316 249,322 247,326 243,329 240,330 236,331 233,333 231,337 232,339 235,335 238,332.4 M230,290 232.4,296 235,301 234.4,306 237,308 M250,380 253,376 258,375 260,371 264,369 269,367 272,363 276,359 280,356 283,352 286,349 289,350 292,354 295,356 293,360 290,363 291,368 293,372 294,378 295,380 M276,359 278,363 280,367 277,371 274,374 272,378 271,380 M300,322 297,327 294,331 291,335 288,340 286,344 M300.4,322.4 297.4,327.4 294.4,331.4 291.4,335.4 288.4,340.4 286.4,344.4 M186,355 189,354 193,357 197,360 201,363 205,367 210,372 214,376 217,380 M186,355 187,359 190,363 194,367 198,372 201,376 203,380 M84.5,273 86.1,281 88,289 89.9,297 92,305 94.7,313 97.3,321 100,327.7 102.7,333.8 105.3,338.3 108,341 110.7,339.7 112.8,335.7 114.7,331.7 116.5,325 118.1,318.3 118.4,314.3 M117.3,335.7 120,333 122.7,334.9 124.5,339.7 126.1,345 125.3,350.3 122.7,353 119.2,352.5 117.3,347.7 116.5,341Z M394,165 392.4,167 391,172 390,177 388,181 385,184 381,187 377,189 374,192 371,195 366,196.4 361,197 356,198 352,200 348,202.4 345,205 M394,165 397,167 399,171 400,175 399,180 397,184 395,188 394,192 392.4,196 390,199 387,200 384,199 381,201 378,200 376,202.4 373,204 370,203 368,206 364,205 360,207 357,206 354,208 351,207 M400,150 399,154 398,159 395,160 392,158 389,160 390,163 393,164.4 396,163 400,161 404,159 407,156 409,153 412,152 417,152.4 420,153.6 422,152.4 M354,204 358,202.4 363,201 367,201.6 369,204 365,205.6 361,207 357,208.4 354.4,207Z M345,206 348,205 351,207 353,210 352,214 351,218 349,222 347.6,224 345.6,220 344.4,214 343,210Z M340,170 343,167 346,163 349,160 354,158 360,157.6 366,156 370,153 372,150 M340,162 342,158 344,154 343,150 M227,111 233,108 239,104 245,98 251,89 254.6,89.4 253,97 247,103 241,107 235,111 230,112.6Z M140,120 145,124 153,124 161,119 171,116.6 176,116 184,118 191,120 198,120 200,113 204,108.6 211,110.6 219,112 221,116.6 225,119 233,118 241,119 249,123 257,124 265,122 M153,124 159,129 165,134 168,141 169,145 177,147 185,150 190,155 M174,117.6 176,115.6 178,117.6 176,119.6Z M175,90.6 171,93 167.4,94.6 170,97 170.6,100 M215,88 220,86.6 222,89 221,93 223.4,97 225,102 M265,145 262,146 261,151 263,154 M145,122 148,123 149,126 146,127.4 145,126 M190,155 205,159 220,162.5 235,160 250,155 261,149 M260,123 266,121 272,118.6 278,119 284,121 290,125 295,123 298,119 299,113 301,108 300,104 303,102 310,101.4 318,101.4 324,103 329,106 331,112 333,117 335,121 340,123 344,123.4 348,127 350,132 356,131 362,130 366,128.6 367,132 365,136 362,139 359,143 354,145 350,147 345,150 340,153 M284,121 282,125 279.6,129 281,132 288,132 295,132 299,135 297,138 290,139 286,142 280,144 275,147 269,148 264,146 261,149 262,155 M285,122 285.6,126 289,126 290,124 M380,88 375,90 370,93 369,95 375,96 377,100 380,99 M380,145 376,147 372,150 368,153 366,155 M260,106 262.4,106 M266,108 268,108 M356,145 358,144 359,146.6 356.4,147.4Z M432,69 420,70.9 408,73 397.3,77 388,82.3 380,87.7 372,91.7 368.8,93.8 373.3,95.7 380,93 382.7,97 388,97.5 393.3,101 397.3,105 397.3,111.7 394.7,118.3 392,125 389.3,131.7 384,138.3 377.3,145 370.7,150.3 364,154.3 356,157 349.3,158.3 344,162.3 340,167.7 M403.5,97 405.3,102.3 406.7,109 408,115.7 409.9,122.3 412,126.9 409.9,126.3 406.7,122.3 404.8,126.3 404,131.7 405.3,138.3 403.5,139.7 401.3,134.3 400.8,127.7 400,119.7 399.2,111.7 398.7,105 400,99.7 402.7,97.5Z M399.2,143.7 404,146.3 409.9,150.3 416,151.7 421.3,147.7 426.7,144.5 420,150.3 416,155.7 409.9,157 405.3,161 400,163.1 396,165 393.3,161.5 394.7,157 397.3,151.7 398.7,146.3Z M393.3,166.3 396,170.3 396.5,177 394.7,185 M390.7,166.3 389.3,174.3 386.7,181 384,185 M340,123.7 345.3,127.7 350.7,131.7 357.3,130.3 365.3,128.5 366.7,133 362.7,138.3 356,142.3 350.7,147.7 352,153 349.3,157 M485.3,69 477.3,74.3 469.3,78.3 464,82.3 461.3,89 462.1,97 464,105 465.9,113.5 462.7,117 468,113 473.3,107.7 477.3,103.7 482.7,98.3 488,94.3 492,90.3 495.2,85.8 492,79.7 494.7,74.3 498.7,70.9 502.7,71.7 M508,91.1 512,93.8 517.3,94.9 M538.7,104.5 544,106.3 M560,109 565.3,109.8 570.7,111.7 M420,70.3 430.7,69.8 M295,175 298.3,173.7 302.3,171.7 305.7,169.7 308.3,168.3 309,171 307,173.7 305.7,177 307.7,177.7 311,175.7 315,174.3 319,173 321.7,171 323.7,169 326.3,167 329.7,165.7 333.7,165 M295,193.7 297.7,191.7 301,189.7 305,188.3 309,187 311.7,185.7 311,187.7 307.7,189.7 303.7,191.7 300.3,193.7 297.7,196.3 298.3,199.7 300.3,203 301.7,206.3 301,209 M345,165 341,168.3 337.7,170.3 335,172.3 333.7,175 334.7,178.1 336.3,180.7 339,183.4 341,186.3 342.3,189.7 342.7,193.7 341.7,197 339,198.6 335,199.9 331,201.3 328.1,199.9 329,197 330.7,194.1 329.9,191.4 328.3,189.7 330.3,187.7 331,185.3 328.3,183.4 325,183 323,182.1 323.7,179.4 325.9,177.7 328.3,177.3 330.7,179 333,179.7 334.7,178.1 M331,185.3 333.7,183 337,181.7 M289,179 293,176 299,174 304,170 307,168 308.6,171 306,174 303,177 304,180 M303,240 304,237 306,233 308,230 310,227 308,222 309.4,218 307.4,214 305,210 303,205 300,202.4 297.4,200 298.6,197 301,193 305,190 310,189 M312,225 309,230 306,234 304,238 301,242 298,245 295,249 292,253 288,257 284,260 280,262 275,264 271,265 267,268 263,270 259,272 256,274 253,273 250,270 247,272 244,271 241,274 238,276 235,279 M302,255 304,252 307,250.6 309,253 308,258 306,263 304,266 302,264 301,259Z M249,282 252,279 256,278 259,280 258,284 255,287 251,287.4 248.6,285Z M253,273 254,277 255,279 M235,279 237,283 236,287 238,292 241,296 244,300 247,305 249,310 250,315 M235,263 238,262 242,264 245,267 247,272 M320,312 317,310 313,308 310,304 312,299 310,294 311,288 310,283 306,282 303,284 301,289 300,295 299,300 301,304 304,307 306,311 307,315 M28,146 32,144 34,140 M28,150 31,152 36,154 43,153 50,153 53,157 55,161 57,164 60,165 64,164 68,162 73,160 78,159 82,157 87,156 92,157 97,158 103,159 109,158 115,159 119,157 122,154 121,149 123,145 127,143 130,140 M28,164 32,165 36,168 38,172 42,175 46,177 50,179 54,182 57,185 60,187 63,188 M57,164 59,168 62,170 65,169 68,171 66,174 64,177 63,180 64,185 63,188 M68,162 70,165 74,166 77,164 81,165 85,166 83,169 79,170 75,169 72,171 70,174 73,173 77.4,172.4 82,172 86,170 89,171 M122,154 118,160 113,164 108,167 102,169 96,171 92,173 89,175 89,178 92,180 95,183 96,187 93,188 M63,188 68,187 73,185 76,182 78,181 79,185 80,189 85,188 90,186.4 94,187 97,188 M28,188 33,190 34,198 29,204 31,212 31,220 34,224 32,230 M97,188 93,190 89,192 83,193 80,196 79,200 76,203 73,206 72,210 70,214 65,216 60,218 57,221 56,226 51,228 45,228 39,229 34,228 M97,188 100,192 103,196 108,198 111,195 116,196 119,199 117,203 114,205 113,209 114,213 M92,202 94,205 96,209 94,213 92,217 90,221 88,225 87,230 M114,213 117,216 122,219 126,222 129,226 133,228 137,227 141,229 145,230 M120,226 123,229 122,230 M32,225 34,230 38,233 41,237 39,242 36,245 34,249 28,250 M28,250 35,249.6 43,250 51,249.4 57,250.6 59.4,254 62,257 66,258.6 M32,225 37,226 45,227 51,227.4 56,226 57,225 M89,225 86,229 82,233 77,237 72,240 70.6,244 73,247 75,251 76,255 72,256 68,257 66,258.6 M66,258.6 68,261 72,262 75,263 71,265 68,266 70,269 73,272 77,273 80,270 83,268 85,267 84.6,272 85,278 86,284 87,290 89,296 91,302 93,308 95,315 M145,283 141,286 137,289 133,292 129,294.6 125,297 122,299.4 119.4,302 118.6,306 118,311 119,315 M119,230 123,234 128,237 133,239 138,242 143,244 145,245 M119,230 122,227 126,225 M140,233 146,234.6 152,236 157,235 162,235 166,234 170,235 174,234 177,232 180,230.6 185,229.4 190,228.6 192.4,231 193.6,234 198,234 201,237 202,241 203,245 201,249 199,253 200,257 204,260 206,264 209,268 211,272 209,276 206,278 204,281 200,283 199,287 201,292 202.4,297 203,302 202,305 M140,234 146,235.6 152,237.4 156,236.6 M155,236.6 156,241 159,242 162,241 166,240.6 170,241 175,240 180,239 184,238 188,236 191,234 192.4,231 M156,241 155,245 157,248 160,250 158,253 159,257 160,262 159,266 162,268 166,267 169,266 172,267.4 173,264 172,260 175,258 177,255 176,252 173,251 170,250.6 166,251 163,250 160,250 M140,279 144,276 149,273 154,270 159,268 162,268 M177,255 180,258 179,262 176,265 175,269 177,273 180,277 181,282 182,286 183,292 184,297 183,300 186,301 190,299 193,295 196,292 198,288 M209,268 212,270 216,268 219,265 223,266 228,264 233,261 237,263 240,267 244,269 249,270 254,268 260,267 M219,265 220,269 223,272 226,274 228,278 231,282 234,286 237,290 240,293 244,296 247,300 249,305 M228,278 225,281 221,284 217,286 214,289 213,292 215,295 M249,270 251,274 255,275 258,274 260,272 M249,281 252,279 256,280 257,284 254,287 250,286Z M240,293 242,289 246,287 249,283 M234,286 231,289 232,294 234,299 233,305"/>
</g>
</g>
<g shape-rendering="crispEdges">
<polygon fill="#1e3cff" points="125,412.5 169,407 169,419"/>
<polygon fill="#f00082" points="475,413.5 430,408 430,419"/>
<rect x="169" y="407" width="43" height="12" fill="#00a0ff"/>
<rect x="212" y="407" width="44" height="12" fill="#00dc00"/>
<rect x="256" y="407" width="43" height="12" fill="#a0e632"/>
<rect x="299" y="407" width="44" height="12" fill="#e6dc32"/>
<rect x="343" y="407" width="43" height="12" fill="#f08228"/>
<rect x="386" y="407" width="44" height="12" fill="#fa3c3c"/>
</g>
<path fill="none" stroke="#000" stroke-width="1" d="M125,413 L169.5,408.5 V419.5 Z"/>
<path fill="none" stroke="#000" stroke-width="1" d="M475,413.5 L430.5,408.5 V419.5 Z"/>
<path fill="none" stroke="#000" stroke-width="1" shape-rendering="crispEdges" d="M169.5,408.5H212.5V419.5H169.5ZM212.5,408.5H256.5V419.5H212.5ZM256.5,408.5H299.5V419.5H256.5ZM299.5,408.5H343.5V419.5H299.5ZM343.5,408.5H386.5V419.5H343.5ZM386.5,408.5H430.5V419.5H386.5Z"/>
<text y="44.8" fill="#111" font-family="&quot;Liberation Sans&quot;, &quot;Noto Sans CJK JP&quot;, sans-serif" font-size="25"><tspan x="341.5">2026</tspan><tspan x="400.5" font-size="22">年</tspan><tspan x="423.5">03</tspan><tspan x="451.5" font-size="22">月</tspan><tspan x="473">06</tspan><tspan x="502" font-size="22">日</tspan><tspan x="523">06</tspan><tspan x="552.5" font-size="22">時</tspan></text>
<g fill="#000" font-family="&quot;Liberation Sans&quot;, &quot;Noto Sans CJK JP&quot;, sans-serif" font-size="18">
<text x="144.5" y="442.5" textLength="53" lengthAdjust="spacing">少ない</text>
<text x="221" y="442.5" textLength="72" lengthAdjust="spacing">やや多い</text>
<text x="325" y="442.5" textLength="36" lengthAdjust="spacing">多い</text>
<text x="389" y="442.5" textLength="90" lengthAdjust="spacing">非常に多い</text>
</g>
</svg>
<div id="lab">SPRINTARS</div>
</body></html>
